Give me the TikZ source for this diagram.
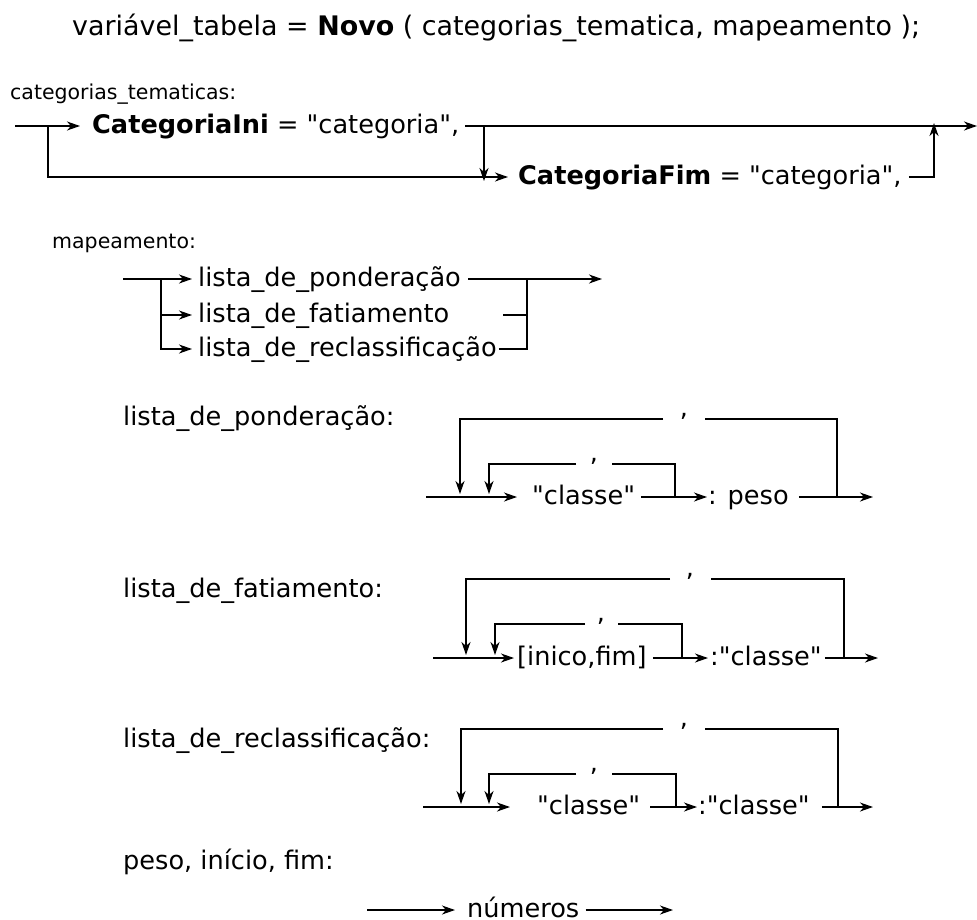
\documentclass[tikz,border=0pt]{standalone}
\usepackage{fontspec}
\setmainfont{DejaVu Sans}[Ligatures=TeXOff]
\usetikzlibrary{arrows.meta}

\begin{document}
\fontsize{25.6}{30}\selectfont
\begin{tikzpicture}[
    x=1pt,y=-1pt,
    txt/.style={anchor=mid west,inner xsep=0pt,inner ysep=2pt,
      font=\fontsize{25.6}{30}\selectfont},
    lbl/.style={txt,font=\fontsize{20.5}{24}\selectfont},
    virg/.style={anchor=base,inner sep=0pt,font=\fontsize{25.6}{30}\selectfont},
    rr/.style={line width=1.3pt,draw=black},
    arr/.style={rr,-{Stealth[length=13pt,width=9pt,inset=4pt]}}
  ]
    \useasboundingbox (0,0) rectangle (977,919);

    % cabecalho
    \node[txt,font=\fontsize{26.9}{31}\selectfont] (titulo) at (72,28) {variável\_tabela = \textbf{Novo} ( categorias\_tematica, mapeamento );};

    % categorias_tematicas
    \node[lbl] (lblcat) at (10,92) {categorias\_tematicas:};
    \coordinate (c0) at (15,126);
    \coordinate (cj) at (48,126);
    \coordinate (cd) at (484,126);
    \coordinate (cu) at (934,126);
    \coordinate (cend) at (977,126);
    \node[txt] (ini) at (92,126) {\textbf{CategoriaIni} = "categoria",};
    \node[txt] (fim) at (518,177) {\textbf{CategoriaFim} = "categoria",};
    \draw[arr] (c0) -- ([xshift=-12]ini.mid west);
    \draw[arr] ([xshift=6]ini.mid east) -- (cend);
    \draw[arr] (cj) |- ([xshift=-10]fim.mid west);
    \draw[arr] (cd) -- ([yshift=-4]cd |- fim.mid);
    \draw[arr] ([xshift=7]fim.mid east) -| ([yshift=3]cu);

    % mapeamento
    \node[lbl] (lblmap) at (52,241) {mapeamento:};
    \coordinate (m0) at (123,279);
    \coordinate (mj) at (161,279);
    \coordinate (mk) at (527,279);
    \coordinate (mend) at (602,279);
    \node[txt] (mp) at (198,279) {lista\_de\_ponderação};
    \node[txt] (mf) at (198,315) {lista\_de\_fatiamento};
    \node[txt] (mr) at (198,349) {lista\_de\_reclassificação};
    \draw[arr] (m0) -- ([xshift=-6]mp.mid west);
    \draw[arr] (mj) |- ([xshift=-6]mf.mid west);
    \draw[arr] (mj) |- ([xshift=-6]mr.mid west);
    \draw[arr] ([xshift=7]mp.mid east) -- (mend);
    \draw[rr] ([xshift=54]mf.mid east) -| (mk);
    \draw[rr] ([xshift=2]mr.mid east) -| (mk);

    % lista_de_ponderacao
    \node[txt] (lp) at (123,418) {lista\_de\_ponderação:};
    \coordinate (p0) at (426,497);
    \coordinate (pend) at (873,497);
    \node[txt] (pcl) at (532,497) {"classe"};
    \node[txt] (ppe) at (708,497) {: peso};
    \coordinate (pin) at (675,497);
    \coordinate (pout) at (837,497);
    \node[virg] (pv1) at (594,461) {,};
    \node[virg] (pv2) at (684,416) {,};
    \draw[arr] (p0) -- ([xshift=-15]pcl.mid west);
    \draw[arr] ([xshift=6]pcl.mid east) -- ([xshift=-1]ppe.mid west);
    \draw[arr] ([xshift=10]ppe.mid east) -- (pend);
    \draw[rr] (pin) |- ([xshift=18,yshift=-3]pv1.base);
    \draw[arr] ([xshift=-18,yshift=-3]pv1.base) -| (489,494);
    \draw[rr] (pout) |- ([xshift=21,yshift=-3]pv2.base);
    \draw[arr] ([xshift=-21,yshift=-3]pv2.base) -| (460,494);

    % lista_de_fatiamento
    \node[txt] (lf) at (123,590) {lista\_de\_fatiamento:};
    \coordinate (f0) at (433,658);
    \coordinate (fend) at (878,658);
    \node[txt] (fin) at (517,658) {[inico,fim]};
    \node[txt] (fcl) at (710,658) {:"classe"};
    \coordinate (fi) at (682,658);
    \coordinate (fo) at (844,658);
    \node[virg] (fv1) at (601,621) {,};
    \node[virg] (fv2) at (690,576) {,};
    \draw[arr] (f0) -- ([xshift=-3]fin.mid west);
    \draw[arr] ([xshift=6]fin.mid east) -- ([xshift=-2]fcl.mid west);
    \draw[arr] ([xshift=3]fcl.mid east) -- (fend);
    \draw[rr] (fi) |- ([xshift=17,yshift=-3]fv1.base);
    \draw[arr] ([xshift=-16,yshift=-3]fv1.base) -| (495,655);
    \draw[rr] (fo) |- ([xshift=21,yshift=-3]fv2.base);
    \draw[arr] ([xshift=-20,yshift=-3]fv2.base) -| (466,655);

    % lista_de_reclassificacao
    \node[txt] (lr) at (123,740) {lista\_de\_reclassificação:};
    \coordinate (r0) at (423,807);
    \coordinate (rend) at (873,807);
    \node[txt] (rcl) at (537,807) {"classe"};
    \node[txt] (rcl2) at (698,807) {:"classe"};
    \coordinate (ri) at (676,807);
    \coordinate (ro) at (838,807);
    \node[virg] (rv1) at (594,771) {,};
    \node[virg] (rv2) at (684,726) {,};
    \draw[arr] (r0) -- ([xshift=-27]rcl.mid west);
    \draw[arr] ([xshift=10]rcl.mid east) -- ([xshift=-1]rcl2.mid west);
    \draw[arr] ([xshift=12]rcl2.mid east) -- (rend);
    \draw[rr] (ri) |- ([xshift=18,yshift=-3]rv1.base);
    \draw[arr] ([xshift=-18,yshift=-3]rv1.base) -| (489,804);
    \draw[rr] (ro) |- ([xshift=21,yshift=-3]rv2.base);
    \draw[arr] ([xshift=-21,yshift=-3]rv2.base) -| (461,804);

    % numeros
    \node[txt] (ln) at (123,862) {peso, início, fim:};
    \coordinate (n0) at (367,910);
    \coordinate (nend) at (673,910);
    \node[txt] (num) at (467,910) {números};
    \draw[arr] (n0) -- ([xshift=-12]num.mid west);
    \draw[arr] ([xshift=6]num.mid east) -- (nend);
  \end{tikzpicture}
\end{document}
